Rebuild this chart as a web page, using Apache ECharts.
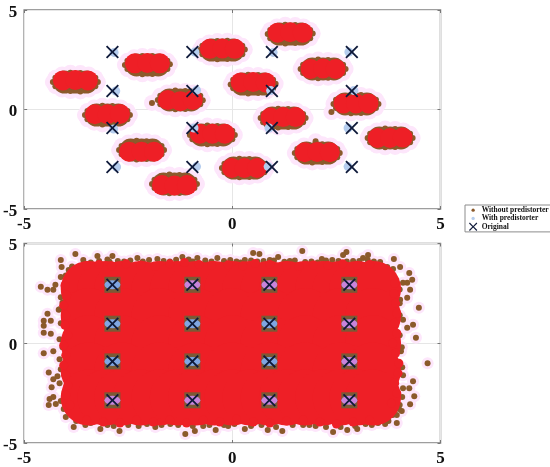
<!DOCTYPE html>
<html><head><meta charset="utf-8">
<style>html,body{margin:0;padding:0;background:#fff}#c{width:550px;height:467px}</style>
<script src="https://cdn.jsdelivr.net/npm/echarts@6/dist/echarts.min.js"></script>
</head><body><div id="c"></div>
<script>
const axisTicks = [-5, 0, 5];
const legendNames = ['Without predistorter', 'With predistorter', 'Original'];

const originalTop = [[-2.88,2.89],[-2.88,0.93],[-2.88,-0.93],[-2.88,-2.89],[-0.96,2.89],[-0.96,0.93],[-0.96,-0.93],[-0.96,-2.89],[0.95,2.89],[0.95,0.93],[0.95,-0.93],[0.95,-2.89],[2.87,2.89],[2.87,0.93],[2.87,-0.93],[2.87,-2.89]];
const withTop = [[-2.84,2.87],[-2.8,0.93],[-2.85,-0.98],[-2.78,-2.89],[-0.9,2.89],[-0.86,0.97],[-0.92,-0.93],[-0.86,-2.87],[0.98,2.87],[0.92,0.95],[0.88,-0.93],[0.86,-2.87],[2.8,2.89],[2.92,0.95],[2.78,-0.93],[2.78,-2.87]];
const withoutTop = [
[-3.23,1.38],[-3.29,1.59],[-3.45,1.76],[-3.65,1.83],[-3.89,1.85],[-4.09,1.76],[-4.25,1.59],[-4.31,1.38],[-4.25,1.17],[-4.09,1.0],[-3.89,0.93],[-3.65,0.91],[-3.45,1.0],[-3.29,1.17],
[-1.5,2.28],[-1.56,2.45],[-1.72,2.62],[-1.92,2.69],[-2.16,2.69],[-2.36,2.62],[-2.52,2.45],[-2.58,2.24],[-2.52,2.03],[-2.36,1.86],[-2.16,1.77],[-1.92,1.79],[-1.72,1.86],[-1.56,2.03],
[0.3,3.02],[0.24,3.2],[0.08,3.37],[-0.12,3.46],[-0.36,3.44],[-0.56,3.37],[-0.72,3.2],[-0.78,2.99],[-0.72,2.78],[-0.56,2.61],[-0.36,2.52],[-0.12,2.54],[0.08,2.61],[0.24,2.78],
[1.93,3.82],[1.87,4.0],[1.71,4.17],[1.51,4.24],[1.27,4.26],[1.07,4.17],[0.91,4.0],[0.85,3.79],[0.91,3.58],[1.07,3.41],[1.27,3.32],[1.51,3.34],[1.71,3.41],[1.87,3.58],
[2.72,2.04],[2.66,2.25],[2.5,2.42],[2.3,2.49],[2.06,2.51],[1.86,2.42],[1.7,2.25],[1.64,2.04],[1.7,1.83],[1.86,1.66],[2.06,1.57],[2.3,1.59],[2.5,1.66],[2.66,1.83],
[1.04,1.3],[0.98,1.49],[0.82,1.66],[0.62,1.73],[0.38,1.75],[0.18,1.66],[0.02,1.49],[-0.04,1.26],[0.02,1.07],[0.18,0.9],[0.38,0.81],[0.62,0.83],[0.82,0.9],[0.98,1.07],
[-0.71,0.46],[-0.77,0.69],[-0.93,0.86],[-1.13,0.93],[-1.37,0.95],[-1.57,0.86],[-1.73,0.69],[-1.79,0.48],[-1.73,0.27],[-1.57,0.1],[-1.37,0.01],[-1.13,0.03],[-0.93,0.1],[-0.77,0.27],[-1.93,0.33],
[-2.46,-0.28],[-2.52,-0.07],[-2.68,0.1],[-2.88,0.17],[-3.12,0.19],[-3.32,0.1],[-3.48,-0.07],[-3.54,-0.28],[-3.48,-0.49],[-3.32,-0.66],[-3.12,-0.75],[-2.88,-0.73],[-2.68,-0.66],[-2.52,-0.49],
[-1.64,-2.04],[-1.7,-1.83],[-1.86,-1.66],[-2.06,-1.59],[-2.3,-1.57],[-2.5,-1.66],[-2.66,-1.83],[-2.72,-2.04],[-2.66,-2.25],[-2.5,-2.42],[-2.3,-2.51],[-2.06,-2.49],[-1.86,-2.42],[-1.7,-2.25],
[0.06,-1.28],[0,-1.07],[-0.16,-0.9],[-0.36,-0.83],[-0.6,-0.81],[-0.8,-0.9],[-0.96,-1.07],[-1.02,-1.28],[-0.96,-1.49],[-0.8,-1.66],[-0.6,-1.75],[-0.36,-1.73],[-0.16,-1.66],[0,-1.49],
[1.76,-0.43],[1.7,-0.22],[1.54,-0.05],[1.34,0.02],[1.1,0.04],[0.9,-0.05],[0.74,-0.22],[0.68,-0.43],[0.74,-0.64],[0.9,-0.81],[1.1,-0.9],[1.34,-0.88],[1.54,-0.81],[1.7,-0.64],
[3.51,0.28],[3.45,0.49],[3.29,0.66],[3.09,0.73],[2.85,0.75],[2.65,0.66],[2.49,0.49],[2.43,0.28],[2.49,0.07],[2.65,-0.1],[2.85,-0.19],[3.09,-0.17],[3.29,-0.1],[3.45,0.07],[2.38,-0.13],
[4.33,-1.43],[4.27,-1.22],[4.11,-1.05],[3.91,-0.98],[3.67,-0.96],[3.47,-1.05],[3.31,-1.22],[3.25,-1.43],[3.31,-1.64],[3.47,-1.81],[3.67,-1.9],[3.91,-1.88],[4.11,-1.81],[4.27,-1.64],
[2.58,-2.19],[2.52,-1.98],[2.36,-1.81],[2.16,-1.74],[2.0,-1.6],[1.72,-1.81],[1.56,-1.98],[1.5,-2.19],[1.56,-2.4],[1.72,-2.57],[1.92,-2.66],[2.16,-2.64],[2.36,-2.57],[2.52,-2.4],
[0.83,-2.94],[0.77,-2.73],[0.61,-2.56],[0.41,-2.49],[0.17,-2.47],[-0.03,-2.56],[-0.19,-2.73],[-0.25,-2.94],[-0.19,-3.15],[-0.03,-3.32],[0.17,-3.41],[0.41,-3.39],[0.61,-3.32],[0.77,-3.15],
[-0.85,-3.74],[-0.91,-3.53],[-1.07,-3.36],[-1.27,-3.29],[-1.51,-3.27],[-1.71,-3.36],[-1.87,-3.53],[-1.93,-3.74],[-1.87,-3.95],[-1.71,-4.12],[-1.51,-4.21],[-1.27,-4.19],[-1.07,-4.12],[-0.91,-3.95]
];
const underTop = [
[-4.03,1.38],[-3.77,1.38],[-3.51,1.38],
[-2.3,2.24],[-2.04,2.24],[-1.78,2.24],
[-0.5,2.99],[-0.24,2.99],[0.02,2.99],
[1.13,3.79],[1.39,3.79],[1.65,3.79],
[1.92,2.04],[2.18,2.04],[2.44,2.04],
[0.24,1.28],[0.5,1.28],[0.76,1.28],
[-1.51,0.48],[-1.25,0.48],[-0.99,0.48],
[-3.26,-0.28],[-3.0,-0.28],[-2.74,-0.28],
[-2.44,-2.04],[-2.18,-2.04],[-1.92,-2.04],
[-0.74,-1.28],[-0.48,-1.28],[-0.22,-1.28],
[0.96,-0.43],[1.22,-0.43],[1.48,-0.43],
[2.71,0.28],[2.97,0.28],[3.23,0.28],
[3.53,-1.43],[3.79,-1.43],[4.05,-1.43],
[1.78,-2.19],[2.04,-2.19],[2.3,-2.19],
[0.03,-2.94],[0.29,-2.94],[0.55,-2.94],
[-1.65,-3.74],[-1.39,-3.74],[-1.13,-3.74]
];
const coreTop = [
[-4.07,1.46],[-3.77,1.48],[-3.47,1.46],
[-2.34,2.32],[-2.04,2.34],[-1.74,2.32],
[-0.54,3.05],[-0.24,3.07],[0.06,3.05],
[1.09,3.86],[1.39,3.88],[1.69,3.86],
[1.88,2.04],[2.18,2.06],[2.48,2.04],
[0.2,1.36],[0.5,1.38],[0.8,1.36],
[-1.55,0.48],[-1.25,0.42],[-0.95,0.48],
[-3.3,-0.24],[-3.0,-0.24],[-2.7,-0.22],
[-2.48,-2.12],[-2.18,-2.12],[-1.88,-2.12],
[-0.78,-1.22],[-0.48,-1.22],[-0.18,-1.22],
[0.92,-0.4],[1.22,-0.38],[1.52,-0.38],
[2.67,0.3],[2.97,0.3],[3.27,0.3],
[3.49,-1.43],[3.79,-1.43],[4.09,-1.41],
[1.74,-2.15],[2.04,-2.13],[2.34,-2.15],
[-0.01,-2.94],[0.29,-2.94],[0.59,-2.94],
[-1.69,-3.8],[-1.39,-3.82],[-1.09,-3.8]
];

const originalBottom = [[-2.88,2.93],[-2.88,0.98],[-2.88,-0.91],[-2.88,-2.86],[-0.96,2.93],[-0.96,0.98],[-0.96,-0.91],[-0.96,-2.86],[0.89,2.93],[0.89,0.98],[0.89,-0.91],[0.89,-2.86],[2.81,2.93],[2.81,0.98],[2.81,-0.91],[2.81,-2.86]];
const withBottomBlue = [[-2.88,2.93],[-2.88,0.98],[-2.88,-0.91],[-0.96,0.98],[-0.96,-0.91],[0.89,0.98],[0.89,-0.91]];
const withBottomViolet = [[-2.88,-2.86],[-0.96,2.93],[-0.96,-2.86],[0.89,2.93],[0.89,-2.86],[2.81,2.93],[2.81,0.98],[2.81,-0.91],[2.81,-2.86]];
const withoutBottom = [
[-3.77,4.47],[-3.24,4.37],[-2.88,4.37],[-3.58,4.17],[-3.0,4.2],[-2.6,4.1],[-2.28,4.27],[-2.0,4.17],[-1.8,4.22],[-1.5,4.1],[-1.2,4.32],[-0.84,4.27],[-0.36,4.27],[-0.05,4.17],[0.3,4.17],[0.6,4.1],[0.9,4.17],[1.1,4.32],[1.38,4.12],[1.75,4.07],[2.15,4.22],[2.4,4.17],[2.9,4.12],[3.14,4.27],[3.55,4.07],[3.72,3.82],[3.86,3.72],
[1.68,4.62],[0.5,4.52],[0.65,4.47],[2.74,4.57],[2.66,4.42],[3.26,4.42],[3.88,4.22],[4.03,3.82],[4.25,3.52],[4.32,3.18],[4.2,3.03],[4.27,2.68],[4.2,2.28],[4.48,1.78],[4.34,0.93],[4.41,0.28],[4.07,-0.2],
[4.1,3.03],[4.03,2.18],[4.1,1.18],[4.2,0.78],[3.92,0.18],
[4.69,-1.0],[4.34,-1.9],[4.1,-2.26],[4.25,-2.26],[4.37,-2.66],[4.27,-3.06],[4.07,-3.4],[3.95,-4.0],[3.67,-4.05],[3.35,-4.1],[3.0,-4.3],[2.76,-4.35],[2.42,-4.45],[2.0,-4.15],[1.7,-4.1],[1.2,-4.4],[0.85,-4.35],[0.3,-4.3],[0.05,-4.05],[-0.2,-4.1],[-0.4,-4.35],[-0.7,-4.15],[-0.9,-4.4],
[-4.6,2.83],[-4.44,2.68],[-4.3,2.68],[-4.25,2.93],[-4.12,4.17],[-4.1,3.82],[-3.93,3.67],[-4.12,3.32],[-4.08,2.03],[-4.17,1.68],[-4.44,1.48],[-4.53,1.13],[-4.36,1.13],[-4.53,0.88],[-4.53,0.53],[-4.36,0.48],[-4.53,-0.5],[-4.3,-0.4],[-4.08,-0.2],[-4.41,-1.46],[-4.2,-1.66],[-4.3,-1.8],[-4.34,-2.2],[-4.39,-2.8],[-4.3,-2.7],[-4.41,-3.1],[-4.24,-3.05],[-4.0,-3.7],[-3.81,-4.2],[-3.53,-4.1],[-3.17,-4.3],[-2.71,-4.4],[-2.25,-4.15],[-1.85,-4.2],[-1.13,-4.55],[-1.49,-4.05],
[-3.4,4.05],[-3.2,4.12],[-2.95,4.08],[-2.75,4.12],[-2.45,4.15],[-2.15,4.1],[-1.65,4.12],[-1.35,4.18],[-1.05,4.2],[-0.95,4.1],[-0.65,4.15],[-0.5,4.1],[-0.2,4.12],[0.1,4.1],[0.2,4.05],[0.45,4.15],[0.75,4.12],[1.0,4.15],[1.25,4.08],[1.5,4.15],[1.9,4.1],[2.05,4.05],[2.25,4.15],[2.55,4.12],[2.75,4.1],[3.05,4.12],[3.25,4.18],[3.4,4.1],
[-3.4,-4.0],[-3.0,-4.1],[-2.85,-4.15],[-2.5,-4.1],[-2.05,-4.05],[-1.7,-4.1],[-1.3,-4.1],[-0.95,-4.15],[-0.55,-4.1],[-0.1,-4.15],[0.45,-4.15],[0.7,-4.1],[1.05,-4.2],[1.45,-4.1],[1.85,-4.1],[2.25,-4.2],[2.6,-4.2],[2.95,-4.15],[3.2,-4.05],[3.5,-4.0],[3.75,-3.9],[3.85,-3.6],[4.0,-3.3],[-3.75,-3.9],[-3.9,-3.5],
[-4.12,2.3],[-4.15,1.7],[-4.12,1.0],[-4.15,0.2],[-4.15,-0.8],[-4.12,-1.3],[-4.15,-2.0],[-4.12,-2.9],[-4.05,-3.3],[-4.0,3.4],[-3.85,3.85],
[4.02,2.7],[4.02,2.0],[4.02,1.4],[4.02,0.4],[4.05,-0.4],[4.08,-1.2],[4.1,-1.6],[4.08,-2.7],[4.02,-3.1],[3.95,-3.6]
];
const coreBottom = [
[-3.45,2.72],[-3.05,2.72],[-2.65,2.72],[-2.2,2.72],[-1.75,2.72],[-1.31,2.72],[-0.87,2.72],[-0.43,2.72],[0,2.72],[0.43,2.72],[0.87,2.72],[1.31,2.72],[1.75,2.72],[2.18,2.72],[2.6,2.72],[3.0,2.72],[3.38,2.72],
[-3.45,1.36],[-2.65,1.36],[-1.75,1.36],[-0.87,1.36],[0,1.36],[0.87,1.36],[1.75,1.36],[2.6,1.36],[3.38,1.36],
[-3.45,0],[-2.65,0],[-1.75,0],[-0.87,0],[0,0],[0.87,0],[1.75,0],[2.6,0],[3.38,0],
[-3.45,-1.36],[-2.65,-1.36],[-1.75,-1.36],[-0.87,-1.36],[0,-1.36],[0.87,-1.36],[1.75,-1.36],[2.6,-1.36],[3.38,-1.36],
[-3.45,-2.72],[-3.05,-2.72],[-2.65,-2.72],[-2.2,-2.72],[-1.75,-2.72],[-1.31,-2.72],[-0.87,-2.72],[-0.43,-2.72],[0,-2.72],[0.43,-2.72],[0.87,-2.72],[1.31,-2.72],[1.75,-2.72],[2.18,-2.72],[2.6,-2.72],[3.0,-2.72],[3.38,-2.72]
];
const edgeBottom = [
[-3.5,3.9],[-3.2,3.95],[-2.9,3.88],[-2.55,3.98],[-2.2,3.92],[-1.85,3.85],[-1.5,3.98],[-1.15,4.05],[-0.8,3.95],[-0.5,3.9],[-0.1,3.93],[0.25,3.88],[0.55,4.0],[0.9,3.95],[1.3,3.9],[1.6,3.85],[1.95,3.92],[2.3,3.9],[2.65,3.98],[3.0,3.9],[3.3,3.95],
[-3.5,-3.85],[-3.1,-3.95],[-2.7,-4.0],[-2.3,-3.85],[-1.9,-3.95],[-1.5,-3.85],[-1.1,-4.0],[-0.7,-3.85],[-0.3,-3.95],[0.1,-3.8],[0.5,-3.95],[0.9,-4.0],[1.3,-3.9],[1.7,-3.85],[2.1,-3.95],[2.5,-4.05],[2.9,-3.95],[3.3,-3.85],
[-4.02,2.9],[-3.98,2.4],[-4.05,1.9],[-4.0,1.4],[-4.02,0.9],[-3.95,0.4],[-4.05,-0.1],[-4.0,-0.6],[-4.05,-1.1],[-4.0,-1.6],[-3.95,-2.1],[-4.0,-2.6],[-3.9,-3.1],
[3.9,3.0],[3.88,2.5],[3.92,2.0],[3.95,1.5],[3.9,1.0],[3.95,0.5],[3.85,0],[3.92,-0.5],[4.0,-1.0],[3.98,-1.5],[3.9,-2.0],[3.95,-2.5],[3.82,-3.0]
];

const C = {red:'#ee1f26', brown:'#8b5a2b', pink:'#fde6fb', blue:'#7fa6e2', violet:'#c884dc', lightBlue:'#b5cdee', square:'#7a5a35', navy:'#0f1a3a', frame:'#7f7f7f'};
const xPath = 'path://M0,2L2,0L10,8L18,0L20,2L12,10L20,18L18,20L10,12L2,20L0,18L8,10Z';
const dotPath = 'path://M0,0L0,0M20,20L20,20M14,10A4,4 0 1,1 6,10A4,4 0 1,1 14,10Z';
const font = 'Liberation Serif';

function ax(dim, grid, pos, labels){
  const label = {show:labels, color:'#111', fontFamily:font, fontWeight:'bold', fontSize:17, margin:7,
    customValues:axisTicks, showMinLabel:true, showMaxLabel:true};
  if (dim === 'y') { label.verticalAlign = 'top'; label.padding = [-6,0,0,0]; }
  return {type:'value', gridIndex:grid, min:-5, max:5, interval:5, position:pos,
    axisLine:{show:false, onZero:false},
    axisTick:{show:true, inside:true, length:3, lineStyle:{color:'#777'}},
    splitLine:{show:labels, lineStyle:{color:'#e6e6e6', width:1}},
    axisLabel:label};
}
function sc(name, grid, data, symbol, size, color, z){
  return {type:'scatter', name, xAxisIndex:grid*2, yAxisIndex:grid*2, data, symbol, symbolSize:size,
    itemStyle:{color, opacity:1}, z, silent:true, emphasis:{disabled:true}, animation:false};
}

const chart = echarts.init(document.getElementById('c'), null, {renderer:'canvas'});
chart.setOption({
  animation:false,
  backgroundColor:'#fff',
  grid:[
    {left:24, top:10, width:416.5, height:199, show:true, borderColor:C.frame, borderWidth:1.5, backgroundColor:'#fff'},
    {left:24, top:243.5, width:416.5, height:200.5, show:true, borderColor:C.frame, borderWidth:1.5, backgroundColor:'#fff'}
  ],
  xAxis:[ax('x',0,'bottom',true), ax('x',0,'top',false), ax('x',1,'bottom',true), ax('x',1,'top',false)],
  yAxis:[ax('y',0,'left',true), ax('y',0,'right',false), ax('y',1,'left',true), ax('y',1,'right',false)],
  legend:{
    left:465, top:205, orient:'vertical', padding:[1,2,1,4], itemGap:0, itemWidth:9, itemHeight:8.3,
    selectedMode:false, borderColor:'#8c8c8c', borderWidth:1, backgroundColor:'#fff',
    textStyle:{fontFamily:font, fontWeight:'bold', fontSize:7.5, color:'#111', padding:[0,0,0,-1]},
    data:[{name:legendNames[0], icon:dotPath},{name:legendNames[1], icon:dotPath},{name:legendNames[2], icon:xPath}]
  },
  series:[
    sc('halo top',0,withoutTop,'circle',16,C.pink,1),
    sc(legendNames[0],0,underTop,'circle',23,C.brown,2),
    sc(legendNames[0],0,withoutTop,'circle',6,C.brown,2),
    sc('dense top',0,coreTop,'circle',20,C.red,3),
    sc(legendNames[1],0,withTop,'circle',9,C.lightBlue,4),
    sc(legendNames[2],0,originalTop,xPath,13,C.navy,5),
    sc('halo bottom',1,withoutBottom,'circle',12,C.pink,1),
    sc(legendNames[0],1,withoutBottom,'circle',6,C.brown,2),
    sc('dense bottom',1,coreBottom,'circle',56,C.red,3),
    sc('edge bottom',1,edgeBottom,'circle',9,C.red,3),
    sc('square bottom',1,originalBottom,'rect',16,C.square,4),
    sc(legendNames[1],1,withBottomBlue,'circle',[16,9],C.blue,5),
    sc(legendNames[1],1,withBottomViolet,'circle',[16,9],C.violet,5),
    sc(legendNames[2],1,originalBottom,xPath,13,C.navy,6)
  ]
});
</script></body></html>
